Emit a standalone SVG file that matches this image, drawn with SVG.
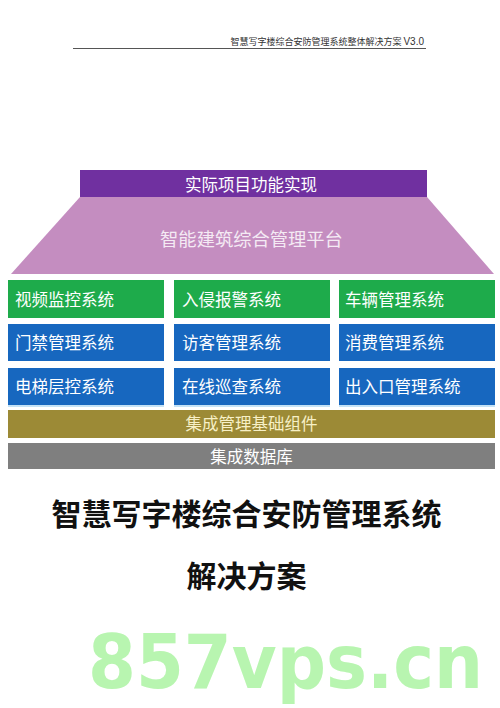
<svg xmlns="http://www.w3.org/2000/svg" width="500" height="708" viewBox="0 0 500 708">
<style>
.t{font-family:"Noto Sans CJK SC","Noto Sans",sans-serif;}
.cell{font-family:"Noto Sans CJK SC","Noto Sans",sans-serif;font-size:16.5px;fill:#ffffff;}
.c{text-anchor:middle;}
.g{fill:#1EAB4B;}
.b{fill:#1767BF;}
</style>
<rect width="500" height="708" fill="#ffffff"/>
<g id="header">
<text class="t" x="424" y="45" font-size="9" fill="#333333" text-anchor="end">智慧写字楼综合安防管理系统整体解决方案 <tspan font-family="'Liberation Sans',sans-serif" font-size="10">V3.0</tspan></text>
<line x1="73" y1="48.5" x2="426" y2="48.5" stroke="#555555" stroke-width="1"/>
</g>
<g id="top-bar">
<rect x="80" y="170" width="347" height="27" fill="#7030A0"/>
<text class="t c" x="251" y="191" font-size="16.5" fill="#ffffff">实际项目功能实现</text>
</g>
<g id="platform">
<polygon points="80,197 427,197 494,274 11,274" fill="#C48DC0"/>
<text class="t c" x="251.5" y="246" font-size="18.3" fill="#F4EAF4">智能建筑综合管理平台</text>
</g>
<g id="n-video"><rect class="g" x="8" y="280" width="156" height="38"/><text class="cell" x="15" y="306">视频监控系统</text></g>
<g id="n-intrusion"><rect class="g" x="174" y="280" width="156" height="38"/><text class="cell" x="182" y="306">入侵报警系统</text></g>
<g id="n-vehicle"><rect class="g" x="339" y="280" width="156" height="38"/><text class="cell" x="345" y="306">车辆管理系统</text></g>
<g id="n-door"><rect class="b" x="8" y="324" width="156" height="37"/><text class="cell" x="15" y="349">门禁管理系统</text></g>
<g id="n-visitor"><rect class="b" x="174" y="324" width="156" height="37"/><text class="cell" x="182" y="349">访客管理系统</text></g>
<g id="n-consume"><rect class="b" x="339" y="324" width="156" height="37"/><text class="cell" x="345" y="349">消费管理系统</text></g>
<g id="n-elevator"><rect class="b" x="8" y="368" width="156" height="37"/><text class="cell" x="15" y="393">电梯层控系统</text></g>
<g id="n-patrol"><rect class="b" x="174" y="368" width="156" height="37"/><text class="cell" x="182" y="393">在线巡查系统</text></g>
<g id="n-entry"><rect class="b" x="339" y="368" width="156" height="37"/><text class="cell" x="345" y="393">出入口管理系统</text></g>
<g id="shadow" fill="#C4E2F6">
<rect x="8" y="405" width="156" height="2"/><rect x="174" y="405" width="156" height="2"/><rect x="339" y="405" width="156" height="2"/>
</g>
<g id="base-components">
<rect x="8" y="410" width="487" height="28" fill="#9C8A36"/>
<text class="t c" x="251.5" y="430" font-size="16.5" fill="#F7F0C6">集成管理基础组件</text>
</g>
<g id="database">
<rect x="8" y="443" width="487" height="26" fill="#7F7F7F"/>
<text class="t c" x="251.5" y="463" font-size="16.5" fill="#ffffff">集成数据库</text>
</g>
<g id="connectors"></g>
<g id="title">
<text class="t c" x="246.5" y="525" font-size="30" font-weight="bold" fill="#111111">智慧写字楼综合安防管理系统</text>
<text class="t c" x="246.5" y="587" font-size="30" font-weight="bold" fill="#111111">解决方案</text>
</g>
<g id="watermark">
<text x="88" y="688" font-family="'DejaVu Sans',sans-serif" font-weight="bold" font-size="74" fill="#B8F5B0" textLength="395" lengthAdjust="spacingAndGlyphs">857vps.cn</text>
</g>
</svg>
